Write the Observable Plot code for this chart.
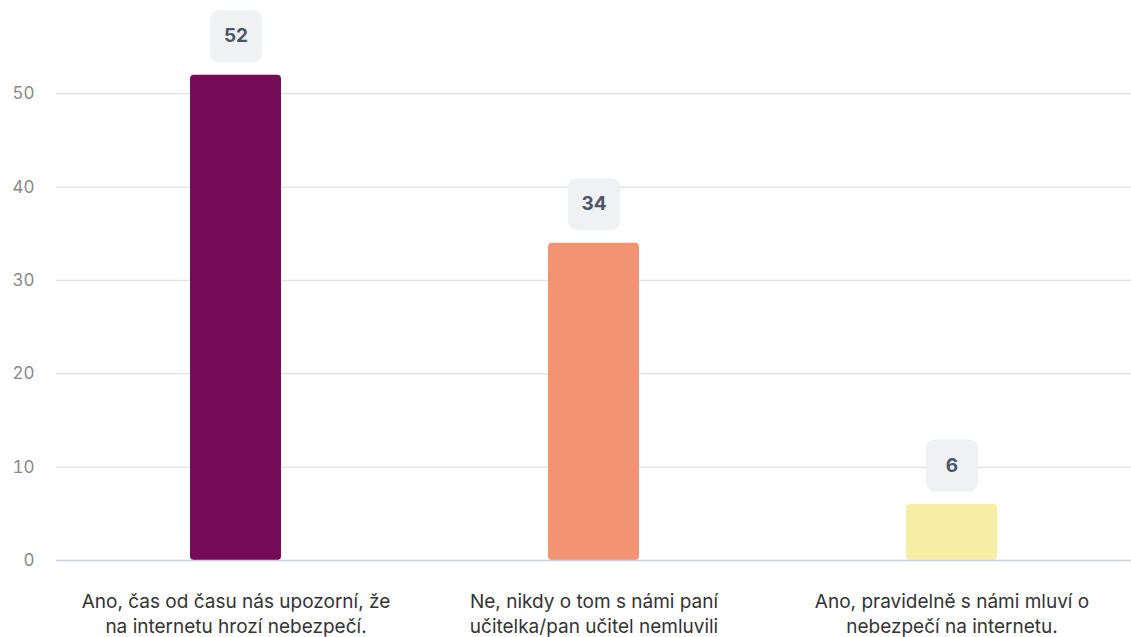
<!DOCTYPE html>
<html><head><meta charset="utf-8">
<script src="https://cdn.jsdelivr.net/npm/d3@7"></script>
<script src="https://cdn.jsdelivr.net/npm/@observablehq/plot@0.6"></script>
<style>
body{margin:0;background:#fff;font-family:Inter, sans-serif;}
</style></head><body><div id="chart"></div>
<script>
const categories = [
  "Ano, čas od času nás upozorní, že\nna internetu hrozí nebezpečí.",
  "Ne, nikdy o tom s námi paní\nučitelka/pan učitel nemluvili",
  "Ano, pravidelně s námi mluví o\nnebezpečí na internetu."
];
const values = [52, 34, 6];
const colors = ["#760b5a", "#f29471", "#f7eea6"];
const yTicks = [0, 10, 20, 30, 40, 50];

const data = categories.map((c, i) => ({cat: c, value: values[i], color: colors[i]}));

const badge = {
  draw(ctx, size) {
    const w = 26, r = 9;
    ctx.moveTo(-w + r, -w);
    ctx.arcTo(w, -w, w, w, r);
    ctx.arcTo(w, w, -w, w, r);
    ctx.arcTo(-w, w, -w, -w, r);
    ctx.arcTo(-w, -w, w, -w, r);
    ctx.closePath();
  }
};

const chart = Plot.plot({
  width: 1131,
  height: 637,
  marginLeft: 56,
  marginRight: 0,
  marginTop: 0,
  marginBottom: 77,
  style: {fontFamily: "Inter, sans-serif", background: "#fff"},
  x: {domain: categories, paddingInner: 0.7465, paddingOuter: 0.3705, label: null},
  y: {domain: [0, 60], label: null},
  color: {type: "identity"},
  marks: [
    Plot.gridY(yTicks.filter(d => d > 0), {stroke: "#e5e5e5", strokeOpacity: 1, strokeWidth: 1.5}),
    Plot.axisY(yTicks, {tickSize: 0, tickPadding: 22, fontSize: 17, fill: "#8a8a8a", label: null}),
    Plot.barY(data, {x: "cat", y: "value", fill: "color", rx: 4}),
    Plot.ruleY([0], {stroke: "#c9cfe6", strokeWidth: 1.5}),
    Plot.dot(data, {x: "cat", y: "value", symbol: badge, fill: "#eff1f2", stroke: null, r: 10, dy: -39}),
    Plot.text(data, {x: "cat", y: "value", text: d => String(d.value), dy: -39, fontSize: 19, fontWeight: 700, fill: "#4a5568"}),
    Plot.axisX({tickSize: 0, tickPadding: 30, fontSize: 19, fill: "#333", lineHeight: 1.3, label: null})
  ]
});
document.getElementById("chart").appendChild(chart);
</script></body></html>
